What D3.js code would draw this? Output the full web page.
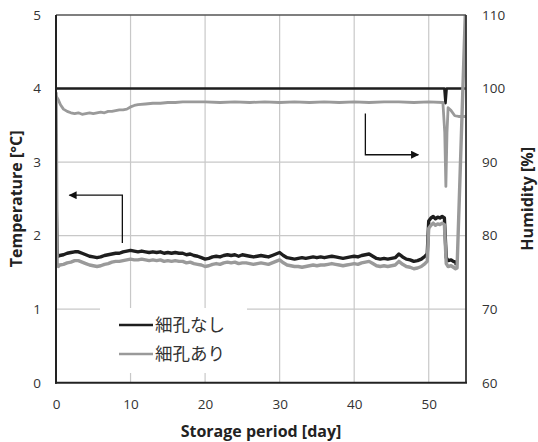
<!DOCTYPE html>
<html><head><meta charset="utf-8">
<script src="https://cdn.jsdelivr.net/npm/d3@7"></script>
<style>
body{margin:0;background:#fff;}
svg{display:block;}
.tick text{font-family:"Open Sans",sans-serif;font-size:13.5px;fill:#333;}
</style></head>
<body><svg id="c" width="538" height="442"></svg>
<script>
// ---------- data ----------
const legendLabels = ["細孔なし", "細孔あり"];
const xTicks = [0, 10, 20, 30, 40, 50];
const tempTicks = [0, 1, 2, 3, 4, 5];
const humTicks = [60, 70, 80, 90, 100, 110];

// temperature, 細孔なし
const tBlackDays = [0, 0.15, 0.3, 0.5, 1, 1.5, 2, 2.5, 3, 3.5, 4, 4.5, 5, 5.5, 6, 6.5, 7, 7.5, 8, 8.5, 9, 9.5, 10, 10.5, 11, 11.5, 12, 12.5, 13, 13.5, 14, 14.5, 15, 15.5, 16, 16.5, 17, 17.5, 18, 18.5, 19, 19.5, 20, 20.5, 21, 21.5, 22, 22.5, 23, 23.5, 24, 24.5, 25, 25.5, 26, 26.5, 27, 27.5, 28, 28.5, 29, 29.5, 30, 30.5, 31, 31.5, 32, 32.5, 33, 33.5, 34, 34.5, 35, 35.5, 36, 36.5, 37, 37.5, 38, 38.5, 39, 39.5, 40, 40.5, 41, 41.5, 42, 42.5, 43, 43.5, 44, 44.5, 45, 45.5, 46, 46.5, 47, 47.5, 48, 48.5, 49, 49.5, 49.8, 50.0, 50.3, 50.6, 50.9, 51.2, 51.5, 51.8, 52.1, 52.35, 52.6, 53.0, 53.3, 53.6, 53.7];
const tBlack = [2.6, 1.75, 1.72, 1.73, 1.74, 1.76, 1.77, 1.78, 1.78, 1.76, 1.74, 1.72, 1.71, 1.70, 1.71, 1.73, 1.74, 1.75, 1.76, 1.76, 1.78, 1.79, 1.80, 1.79, 1.78, 1.79, 1.78, 1.77, 1.78, 1.77, 1.78, 1.76, 1.77, 1.76, 1.77, 1.76, 1.76, 1.74, 1.75, 1.73, 1.72, 1.70, 1.68, 1.69, 1.71, 1.72, 1.71, 1.73, 1.74, 1.73, 1.74, 1.72, 1.74, 1.73, 1.72, 1.71, 1.72, 1.73, 1.72, 1.71, 1.73, 1.75, 1.77, 1.73, 1.70, 1.69, 1.68, 1.69, 1.70, 1.69, 1.70, 1.71, 1.70, 1.71, 1.70, 1.71, 1.72, 1.71, 1.70, 1.69, 1.70, 1.71, 1.72, 1.71, 1.73, 1.74, 1.75, 1.72, 1.69, 1.68, 1.69, 1.68, 1.69, 1.70, 1.75, 1.71, 1.68, 1.67, 1.65, 1.66, 1.68, 1.72, 1.75, 2.20, 2.24, 2.26, 2.23, 2.25, 2.24, 2.26, 2.24, 1.70, 1.66, 1.67, 1.65, 1.64, 1.60];

// temperature, 細孔あり
const tGrayDays = [0, 0.15, 0.3, 0.5, 1, 1.5, 2, 2.5, 3, 3.5, 4, 4.5, 5, 5.5, 6, 6.5, 7, 7.5, 8, 8.5, 9, 9.5, 10, 10.5, 11, 11.5, 12, 12.5, 13, 13.5, 14, 14.5, 15, 15.5, 16, 16.5, 17, 17.5, 18, 18.5, 19, 19.5, 20, 20.5, 21, 21.5, 22, 22.5, 23, 23.5, 24, 24.5, 25, 25.5, 26, 26.5, 27, 27.5, 28, 28.5, 29, 29.5, 30, 30.5, 31, 31.5, 32, 32.5, 33, 33.5, 34, 34.5, 35, 35.5, 36, 36.5, 37, 37.5, 38, 38.5, 39, 39.5, 40, 40.5, 41, 41.5, 42, 42.5, 43, 43.5, 44, 44.5, 45, 45.5, 46, 46.5, 47, 47.5, 48, 48.5, 49, 49.5, 49.8, 50.0, 50.3, 50.6, 50.9, 51.2, 51.5, 51.8, 52.1, 52.35, 52.6, 53.0, 53.3, 53.6, 53.8, 55.0];
const tGray = [3.95, 1.62, 1.58, 1.60, 1.61, 1.63, 1.64, 1.66, 1.66, 1.64, 1.62, 1.60, 1.59, 1.58, 1.59, 1.61, 1.62, 1.64, 1.65, 1.65, 1.66, 1.67, 1.68, 1.67, 1.67, 1.68, 1.67, 1.66, 1.67, 1.66, 1.67, 1.65, 1.66, 1.65, 1.66, 1.65, 1.65, 1.63, 1.64, 1.62, 1.61, 1.60, 1.58, 1.59, 1.61, 1.62, 1.61, 1.63, 1.64, 1.63, 1.64, 1.62, 1.63, 1.63, 1.62, 1.61, 1.62, 1.63, 1.62, 1.61, 1.63, 1.65, 1.67, 1.63, 1.60, 1.59, 1.58, 1.58, 1.57, 1.58, 1.59, 1.60, 1.59, 1.60, 1.60, 1.61, 1.62, 1.61, 1.60, 1.59, 1.60, 1.61, 1.62, 1.61, 1.63, 1.64, 1.65, 1.62, 1.59, 1.58, 1.59, 1.58, 1.59, 1.60, 1.65, 1.61, 1.58, 1.57, 1.55, 1.56, 1.58, 1.62, 1.65, 2.10, 2.14, 2.17, 2.14, 2.16, 2.15, 2.17, 2.15, 1.62, 1.58, 1.59, 1.57, 1.55, 1.56, 5.3];

// humidity, 細孔なし
const hBlackDays = [0, 52.1, 52.25, 52.4, 55];
const hBlack = [100, 100, 98.0, 100, 100];

// humidity, 細孔あり
const hGrayDays = [0, 0.3, 0.6, 1, 1.5, 2, 2.5, 3, 3.5, 4, 4.5, 5, 5.5, 6, 6.5, 7, 7.5, 8, 8.5, 9, 9.5, 10, 10.5, 11, 12, 13, 14, 15, 16, 17, 18, 19, 20, 22, 24, 26, 28, 30, 32, 34, 36, 38, 40, 42, 44, 46, 48, 50, 51.9, 52.15, 52.3, 52.45, 52.6, 53, 53.5, 54, 55];
const hGray = [99.0, 98.5, 97.8, 97.2, 96.9, 96.7, 96.6, 96.7, 96.5, 96.6, 96.7, 96.6, 96.7, 96.8, 96.7, 96.9, 96.9, 97.0, 97.1, 97.1, 97.2, 97.5, 97.7, 97.8, 97.9, 98.0, 98.0, 98.1, 98.1, 98.2, 98.2, 98.2, 98.2, 98.1, 98.2, 98.1, 98.2, 98.1, 98.2, 98.1, 98.2, 98.1, 98.2, 98.1, 98.2, 98.2, 98.1, 98.2, 98.1, 94.0, 86.7, 94.0, 97.4, 97.0, 96.3, 96.2, 96.2];

// ---------- chart ----------
const svg = d3.select("#c");
const L = 56, R = 466, T = 15, B = 382.7;
const x = d3.scaleLinear().domain([0, 55]).range([L, R]);
const yT = d3.scaleLinear().domain([0, 5]).range([B, T]);
const yH = d3.scaleLinear().domain([60, 110]).range([B, T]);

svg.append("defs").append("clipPath").attr("id", "clip")
  .append("rect").attr("x", L).attr("y", T).attr("width", R - L).attr("height", B - T);

// gridlines
const grid = svg.append("g").attr("stroke", "#c8c8c8").attr("stroke-width", 1.2);
grid.selectAll(".vg").data(xTicks.filter(d => d > 0)).join("line")
  .attr("x1", d => x(d)).attr("x2", d => x(d)).attr("y1", T).attr("y2", B);
grid.selectAll(".hg").data(tempTicks.filter(d => d > 0 && d < 5)).join("line")
  .attr("x1", L).attr("x2", R).attr("y1", d => yT(d)).attr("y2", d => yT(d));

// axes (labels only)
const fmt = d3.format("d");
const gx = svg.append("g").attr("transform", `translate(0,${B})`)
  .call(d3.axisBottom(x).tickValues(xTicks).tickFormat(fmt).tickSize(0).tickPadding(14));
const gl = svg.append("g").attr("transform", `translate(${L},0)`)
  .call(d3.axisLeft(yT).tickValues(tempTicks).tickFormat(fmt).tickSize(0).tickPadding(15));
const gr = svg.append("g").attr("transform", `translate(${R},0)`)
  .call(d3.axisRight(yH).tickValues(humTicks).tickFormat(fmt).tickSize(0).tickPadding(16));
[gx, gl, gr].forEach(g => { g.select(".domain").remove(); g.selectAll(".tick text").attr("fill", "#333"); });
gx.selectAll(".tick text").attr("dy", "0.9em");

// series
const plot = svg.append("g").attr("clip-path", "url(#clip)");
function draw(days, vals, ys, color, w) {
  const pts = days.map((d, i) => [d, vals[i]]);
  plot.append("path").datum(pts)
    .attr("fill", "none").attr("stroke", color).attr("stroke-width", w)
    .attr("stroke-linejoin", "round")
    .attr("d", d3.line().x(d => x(d[0])).y(d => ys(d[1])));
}
const BLACK = "#1e1e1e", GRAY = "#9a9a9a";
draw(hBlackDays, hBlack, yH, BLACK, 2.6);
draw(tBlackDays, tBlack, yT, BLACK, 3.4);
draw(hGrayDays, hGray, yH, GRAY, 2.8);
draw(tGrayDays, tGray, yT, GRAY, 3.4);

// frame
svg.append("line").attr("x1", L).attr("x2", R).attr("y1", T).attr("y2", T).attr("stroke", "#555").attr("stroke-width", 1.5);
svg.append("line").attr("x1", R).attr("x2", R).attr("y1", T).attr("y2", B).attr("stroke", "#333").attr("stroke-width", 1.8);
svg.append("line").attr("x1", L).attr("x2", L).attr("y1", T).attr("y2", B + 1).attr("stroke", "#222").attr("stroke-width", 2);
svg.append("line").attr("x1", L - 1).attr("x2", R + 1).attr("y1", B).attr("y2", B).attr("stroke", "#222").attr("stroke-width", 2);

// arrows
svg.append("defs").append("marker").attr("id", "ah").attr("viewBox", "0 0 10 10")
  .attr("refX", 9).attr("refY", 5).attr("markerWidth", 9).attr("markerHeight", 8)
  .attr("markerUnits", "userSpaceOnUse").attr("orient", "auto")
  .append("path").attr("d", "M0,0L10,5L0,10Z").attr("fill", "#111");
svg.append("path").attr("d", `M${x(8.9)},${yT(1.9)}V${yT(2.55)}H${x(1.8)}`)
  .attr("fill", "none").attr("stroke", "#111").attr("stroke-width", 1.3).attr("marker-end", "url(#ah)");
svg.append("path").attr("d", `M${x(41.5)},${yH(96.6)}V${yH(91.0)}H${x(48.6)}`)
  .attr("fill", "none").attr("stroke", "#111").attr("stroke-width", 1.3).attr("marker-end", "url(#ah)");

// legend
const lg = svg.append("g");
lg.append("rect").attr("x", 100).attr("y", 308).attr("width", 147).attr("height", 65).attr("fill", "#fff");
[[BLACK, 325], [GRAY, 354]].forEach((c, i) => {
  lg.append("line").attr("x1", 119).attr("x2", 153).attr("y1", c[1]).attr("y2", c[1])
    .attr("stroke", c[0]).attr("stroke-width", 2.6);
  lg.append("text").attr("x", 155).attr("y", c[1]).attr("dy", "0.36em")
    .attr("font-family", "'Noto Sans CJK JP', sans-serif").attr("font-size", 17.5)
    .attr("fill", "#333").text(legendLabels[i]);
});

// axis titles
const tf = "'Open Sans', sans-serif";
svg.append("text").attr("x", (L + R) / 2).attr("y", 437).attr("text-anchor", "middle")
  .attr("font-family", tf).attr("font-weight", "bold").attr("font-size", 16).attr("fill", "#222")
  .text("Storage period [day]");
svg.append("text").attr("transform", `translate(22,${(T + B) / 2}) rotate(-90)`).attr("text-anchor", "middle")
  .attr("font-family", tf).attr("font-weight", "bold").attr("font-size", 16).attr("fill", "#222")
  .text("Temperature [°C]");
svg.append("text").attr("transform", `translate(533,${(T + B) / 2}) rotate(-90)`).attr("text-anchor", "middle")
  .attr("font-family", tf).attr("font-weight", "bold").attr("font-size", 16).attr("fill", "#222")
  .text("Humidity [%]");
</script></body></html>
